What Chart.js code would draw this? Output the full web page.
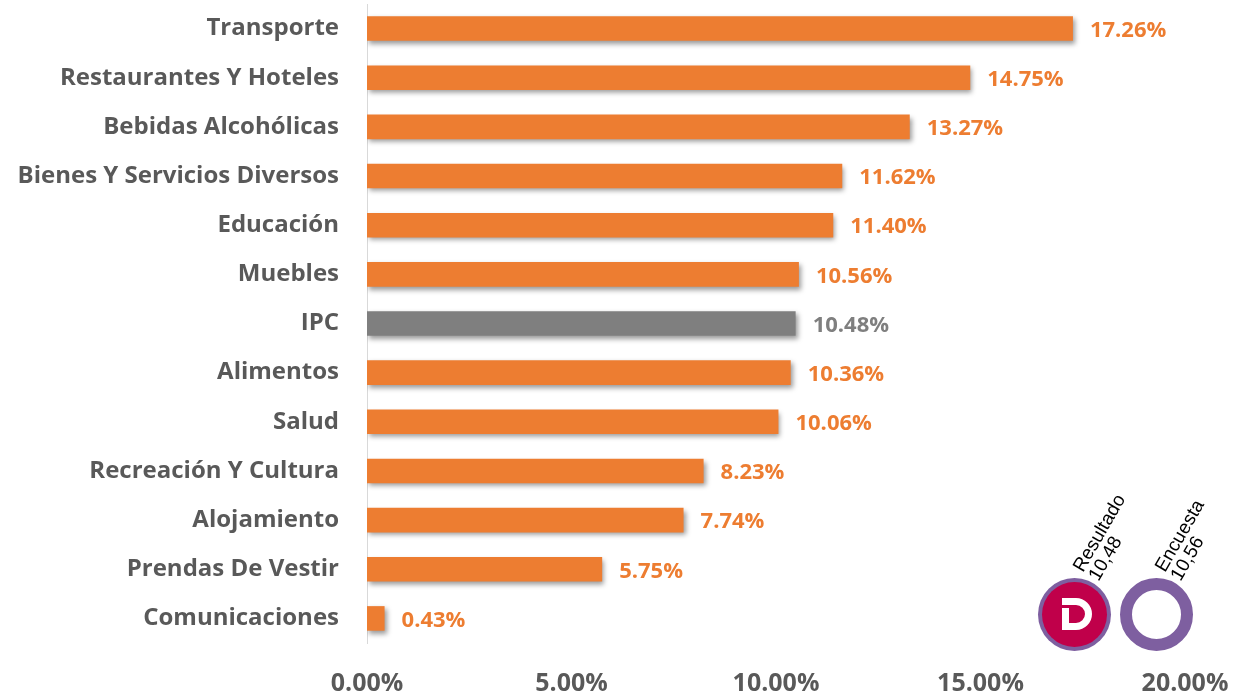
<!DOCTYPE html>
<html>
<head>
<meta charset="utf-8">
<script src="https://cdn.jsdelivr.net/npm/chart.js@4/dist/chart.umd.min.js"></script>
<style>
  html, body { margin: 0; padding: 0; background: #fff; }
  #wrap { position: relative; width: 1234px; height: 694px; }
</style>
</head>
<body>
<div id="wrap"><canvas id="chart" width="1234" height="694"></canvas></div>
<script>
// categories and values (percent), top to bottom
const categories = [
  'Transporte', 'Restaurantes Y Hoteles', 'Bebidas Alcohólicas',
  'Bienes Y Servicios Diversos', 'Educación', 'Muebles', 'IPC',
  'Alimentos', 'Salud', 'Recreación Y Cultura', 'Alojamiento',
  'Prendas De Vestir', 'Comunicaciones'
];
const values = [17.26, 14.75, 13.27, 11.62, 11.40, 10.56, 10.48, 10.36, 10.06, 8.23, 7.74, 5.75, 0.43];
const xTicks = [0, 5, 10, 15, 20];

const ORANGE = '#ED7D31';
const GREY = '#7F7F7F';
const FONT = '"Open Sans", Lato, sans-serif';

const barColors = categories.map(c => c === 'IPC' ? GREY : ORANGE);

// shadow under the bars
const barShadow = {
  id: 'barShadow',
  beforeDatasetDraw(chart) {
    const ctx = chart.ctx;
    ctx.save();
    ctx.shadowColor = 'rgba(0,0,0,0.4)';
    ctx.shadowBlur = 5;
    ctx.shadowOffsetX = 2;
    ctx.shadowOffsetY = 3;
  },
  afterDatasetDraw(chart) {
    chart.ctx.restore();
  }
};

// value labels at the bar ends
const valueLabels = {
  id: 'valueLabels',
  afterDatasetsDraw(chart) {
    const ctx = chart.ctx;
    const meta = chart.getDatasetMeta(0);
    ctx.save();
    ctx.font = 'bold 22px ' + FONT;
    ctx.textBaseline = 'middle';
    ctx.textAlign = 'left';
    meta.data.forEach((bar, i) => {
      ctx.fillStyle = barColors[i];
      ctx.fillText(values[i].toFixed(2) + '%', bar.x + 17, bar.y + 2);
    });
    ctx.restore();
  }
};

// the two round badges in the lower right
const badges = {
  id: 'badges',
  afterDraw(chart) {
    const ctx = chart.ctx;
    const r = Math.PI / 180;
    ctx.save();
    // filled badge
    ctx.beginPath();
    ctx.arc(1074.5, 614.5, 36.5, 0, Math.PI * 2);
    ctx.fillStyle = '#7E5FA0';
    ctx.fill();
    ctx.beginPath();
    ctx.arc(1074.5, 614.5, 32.5, 0, Math.PI * 2);
    ctx.fillStyle = '#C0004A';
    ctx.fill();
    // the D
    ctx.fillStyle = '#fff';
    ctx.beginPath();
    ctx.moveTo(1062, 598);
    ctx.lineTo(1076, 598);
    ctx.arc(1076, 614, 16, -90 * r, 90 * r);
    ctx.lineTo(1062, 630);
    ctx.lineTo(1062, 608);
    ctx.lineTo(1069, 608);
    ctx.lineTo(1069, 623);
    ctx.lineTo(1076, 623);
    ctx.arc(1076, 614, 9, 90 * r, -90 * r, true);
    ctx.lineTo(1062, 605);
    ctx.closePath();
    ctx.fill();
    // ring
    ctx.beginPath();
    ctx.arc(1156.5, 614.5, 30.5, 0, Math.PI * 2);
    ctx.lineWidth = 12;
    ctx.strokeStyle = '#7E5FA0';
    ctx.stroke();
    // rotated captions
    ctx.fillStyle = '#000';
    ctx.font = '19px "Liberation Sans", Arial, sans-serif';
    ctx.textBaseline = 'alphabetic';
    [[1083, 573, 'Resultado', '10,48'], [1165, 573, 'Encuesta', '10,56']].forEach(t => {
      ctx.save();
      ctx.translate(t[0], t[1]);
      ctx.rotate(-60 * r);
      ctx.fillText(t[2], 0, 0);
      ctx.fillText(t[3], 0, 18);
      ctx.restore();
    });
    ctx.restore();
  }
};

new Chart(document.getElementById('chart'), {
  type: 'bar',
  data: {
    labels: categories,
    datasets: [{
      data: values,
      backgroundColor: barColors,
      borderWidth: 0,
      barPercentage: 0.5,
      categoryPercentage: 1.0
    }]
  },
  options: {
    indexAxis: 'y',
    responsive: false,
    animation: false,
    layout: { padding: { top: 4, right: 49, bottom: 0, left: 0 } },
    plugins: {
      legend: { display: false },
      tooltip: { enabled: false }
    },
    scales: {
      x: {
        min: 0,
        max: 20,
        afterBuildTicks(axis) {
          axis.ticks = xTicks.map(v => ({ value: v }));
        },
        afterFit(scale) {
          scale.height = 51;
          scale.paddingLeft = 0;
          scale.paddingRight = 0;
        },
        grid: { display: false, drawTicks: false },
        border: { display: false },
        ticks: {
          padding: 26,
          color: '#595959',
          font: { family: FONT, size: 25, weight: 'bold' },
          callback: v => v.toFixed(2) + '%',
          maxRotation: 0,
          autoSkip: false
        }
      },
      y: {
        afterFit(scale) {
          scale.width = 367;
          scale.paddingTop = 0;
          scale.paddingBottom = 0;
        },
        grid: { display: false, drawTicks: false },
        border: { display: true, color: '#D9D9D9', width: 1 },
        ticks: {
          padding: 28,
          color: '#595959',
          font: { family: FONT, size: 24, weight: 'bold' }
        }
      }
    }
  },
  plugins: [barShadow, valueLabels, badges]
});
</script>
</body>
</html>
